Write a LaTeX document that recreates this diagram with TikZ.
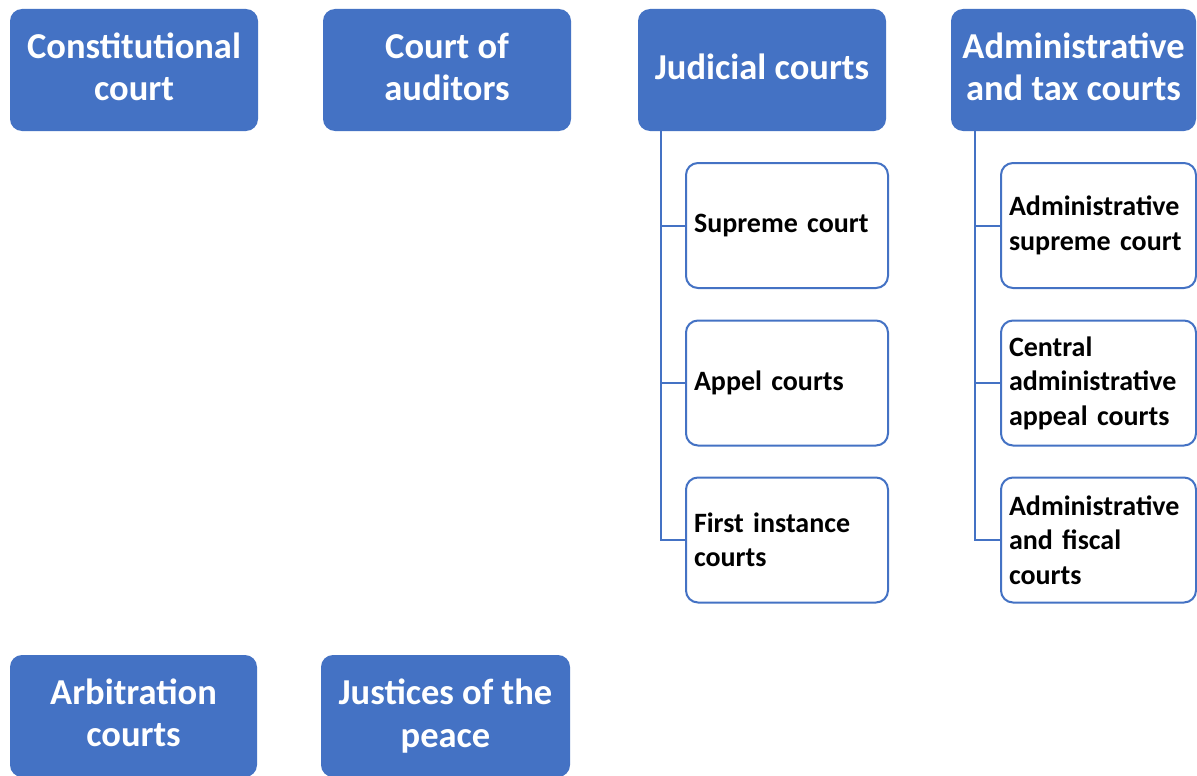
\documentclass[tikz,border=0pt]{standalone}
\usepackage{fontspec}
\setmainfont{Carlito}
\definecolor{cblue}{HTML}{4472C4}
\begin{document}
\begin{tikzpicture}[x=1pt,y=-1pt,
  topbox/.style={fill=cblue, draw=none, rounded corners=12pt, minimum width=248pt, minimum height=122pt, inner sep=0pt},
  toptext/.style={align=center, text=white, inner sep=0pt, yshift=3pt, font=\bfseries\fontsize{36.5}{42.5}\selectfont},
  childbox/.style={fill=white, draw=cblue, line width=2pt, rounded corners=12pt, minimum height=125pt, inner sep=0pt, align=left, text=black, font=\bfseries\fontsize{28}{34.5}\selectfont},
  conn/.style={draw=cblue, line width=2pt}]
\useasboundingbox (0,0) rectangle (1197,776);
\clip (0,0) rectangle (1197,776);
\fill[white] (0,0) rectangle (1197,776);
% top row
\node[topbox, label={[toptext]center:{Constitutional\\court}}] (con) at (134,70) {};
\node[topbox, label={[toptext]center:{Court of\\auditors}}] (aud) at (447,70) {};
\node[topbox, label={[toptext]center:{Judicial courts}}] (jud) at (762,70) {};
\node[topbox, minimum width=245pt, label={[toptext]center:{Administrative\\and tax courts}}] (adm) at (1073.5,70) {};
% bottom row
\node[topbox, minimum width=247pt, label={[toptext]center:{Arbitration\\courts}}] (arb) at (133.5,716) {};
\node[topbox, minimum width=249pt, label={[toptext, yshift=-3pt]center:{Justices of the\\peace}}] (jus) at (445.5,716) {};
% judicial children
\node[childbox, minimum width=202pt, text width=186pt] (sup) at (787,225.5) {Supreme court};
\node[childbox, minimum width=202pt, text width=186pt] (app) at (787,383) {Appel courts};
\node[childbox, minimum width=202pt, text width=186pt] (fir) at (787,540) {First instance\\courts};
% administrative children
\node[childbox, minimum width=195pt, text width=179pt] (asu) at (1098.5,225.5) {Administrative\\supreme court};
\node[childbox, minimum width=195pt, text width=179pt] (cen) at (1098.5,383) {Central\\administrative\\appeal courts};
\node[childbox, minimum width=195pt, text width=179pt] (afc) at (1098.5,540) {Administrative\\and fiscal\\courts};
% connectors
\coordinate (jtrunk) at ([xshift=23pt]jud.south west);
\coordinate (atrunk) at ([xshift=24pt]adm.south west);
\draw[conn] (jtrunk) |- (sup.west);
\draw[conn] (jtrunk) |- (app.west);
\draw[conn] (jtrunk) |- (fir.west);
\draw[conn] (atrunk) |- (asu.west);
\draw[conn] (atrunk) |- (cen.west);
\draw[conn] (atrunk) |- (afc.west);
\end{tikzpicture}
\end{document}
